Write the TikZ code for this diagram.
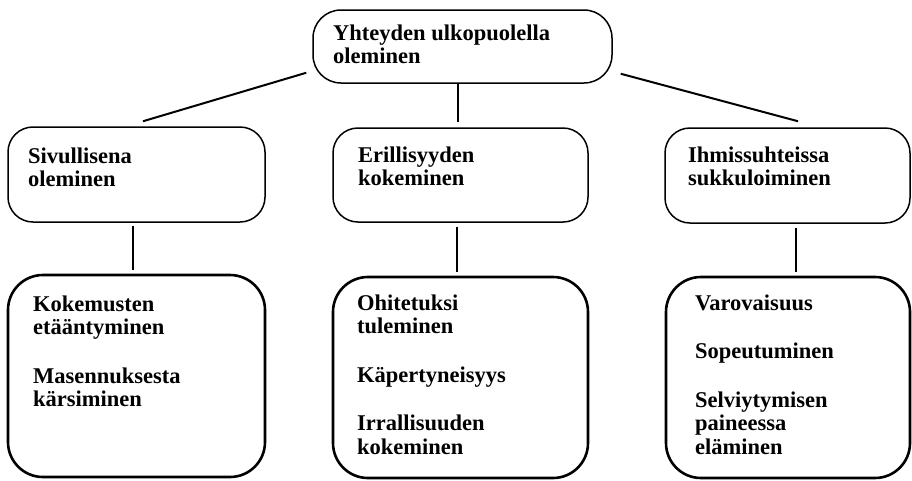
\documentclass[tikz,border=0pt]{standalone}
\usepackage{fontspec}
\setmainfont{Liberation Serif}
\usetikzlibrary{calc}
\tikzset{
  frame/.style={draw, rectangle, rounded corners=25pt, line width=1.5pt, inner sep=0pt},
  topframe/.style={frame, rounded corners=28pt},
  listframe/.style={draw, rectangle, rounded corners=35pt, line width=2.6pt, inner sep=0pt},
  caption/.style={anchor=base west, inner sep=0pt,
    font=\bfseries\fontsize{22.5}{23.5}\selectfont},
  link/.style={line width=2pt, line cap=butt},
}
\newcommand{\stack}[1]{\parbox[t]{240pt}{\raggedright #1}}
\begin{document}
\begin{tikzpicture}[x=1pt,y=-1pt]
\useasboundingbox (0,0) rectangle (912,480);
\fill[white] (0,0) rectangle (912,480);

% frames
\node[topframe, minimum width=299pt, minimum height=73pt] (top) at (462.5,46.5) {};
\node[frame, minimum width=257pt, minimum height=95pt] (sivu) at (136.5,174.5) {};
\node[frame, minimum width=255pt, minimum height=94pt] (erill) at (460.5,175) {};
\node[frame, minimum width=245pt, minimum height=95pt] (ihmis) at (787.5,175.5) {};
\node[listframe, minimum width=257pt, minimum height=202pt] (koke) at (136.5,376) {};
\node[listframe, minimum width=255pt, minimum height=201pt] (ohit) at (460.5,377.5) {};
\node[listframe, minimum width=244pt, minimum height=201pt] (varo) at (788,377.5) {};

% captions
\node[caption] (t-top) at (333,40) {\stack{Yhteyden ulkopuolella\\oleminen}};
\node[caption] (t-sivu) at (28,163) {\stack{Sivullisena\\oleminen}};
\node[caption] (t-erill) at (358,162) {\stack{Erillisyyden\\kokeminen}};
\node[caption] (t-ihmis) at (688,162) {\stack{Ihmissuhteissa\\sukkuloiminen}};
\node[caption] (t-koke) at (33,311) {\stack{Kokemusten\\etääntyminen\\[25pt]Masennuksesta\\kärsiminen}};
\node[caption] (t-ohit) at (357,310) {\stack{Ohitetuksi\\tuleminen\\[25pt]Käpertyneisyys\\[25pt]Irrallisuuden\\kokeminen}};
\node[caption] (t-varo) at (695,310) {\stack{Varovaisuus\\[25pt]Sopeutuminen\\[25pt]Selviytymisen\\paineessa\\eläminen}};

% connectors
\coordinate (cx) at (458,0);
\draw[link] (top.south -| cx) -- ($(erill.north -| cx)+(0,-5)$);
\draw[link] ($(top.south west)+(-6,-11)$) -- ($(sivu.north)+(6.5,-5)$);
\draw[link] ($(top.south east)+(8,-10)$) -- ($(ihmis.north)+(10.5,-6)$);
\draw[link] ($(sivu.south)+(-3.5,3)$) -- ($(koke.north)+(-3.5,-4)$);
\draw[link] ($(erill.south)+(-4,4)$) -- ($(ohit.north)+(-4,-4)$);
\draw[link] ($(ihmis.south)+(8.5,4)$) -- ($(varo.north)+(8,-4)$);
\end{tikzpicture}
\end{document}
